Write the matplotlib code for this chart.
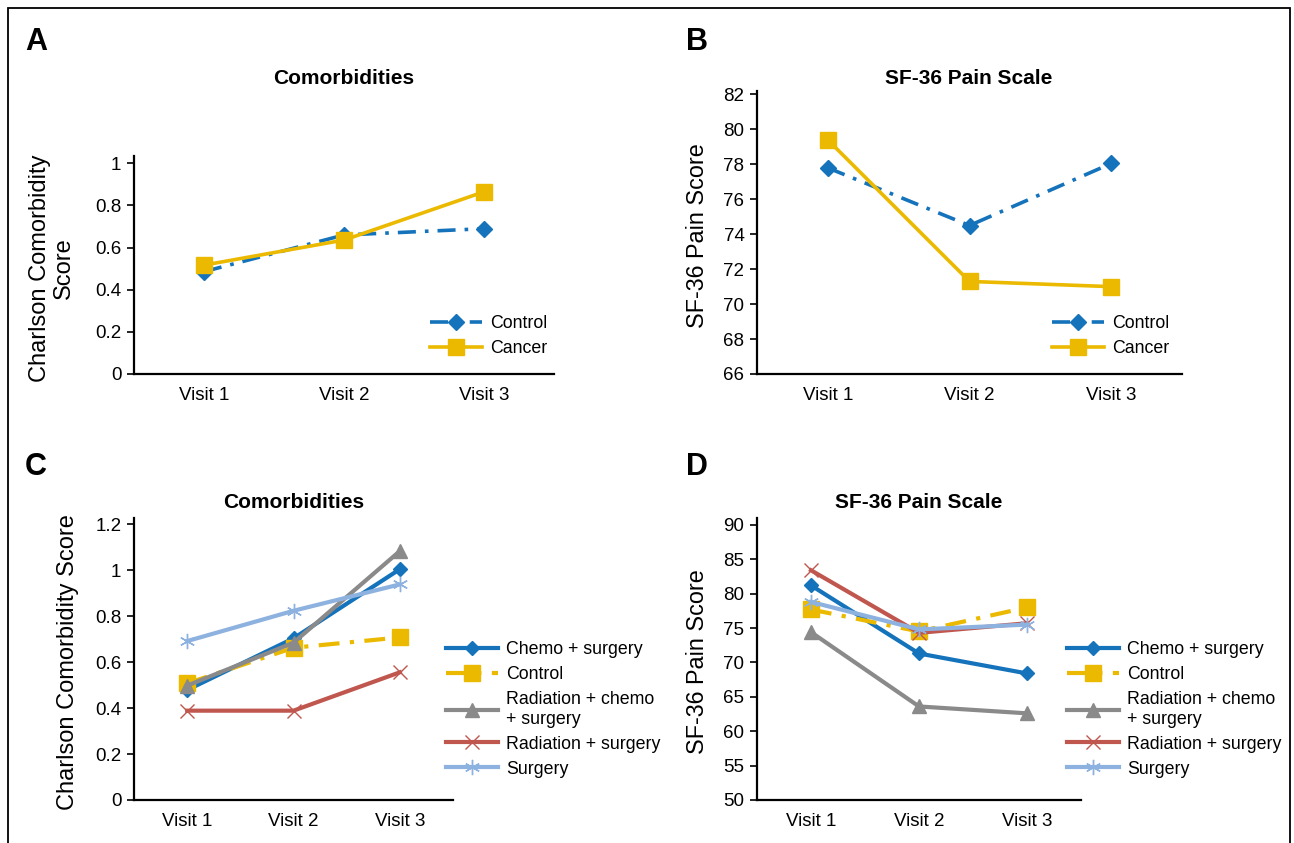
import matplotlib
matplotlib.use("Agg")
import matplotlib.pyplot as plt
from matplotlib.patches import Rectangle
from matplotlib import font_manager

visits = ["Visit 1", "Visit 2", "Visit 3"]

# Panel A: Charlson comorbidity score
a_control = [0.486, 0.66, 0.69]
a_cancer = [0.517, 0.636, 0.865]
# Panel B: SF-36 pain score
b_control = [77.8, 74.5, 78.05]
b_cancer = [79.4, 71.3, 71.0]
# Panel C: comorbidity by treatment group
groups = ["Chemo + surgery", "Control", "Radiation + chemo\n+ surgery",
          "Radiation + surgery", "Surgery"]
c_chemo_surg = [0.479, 0.704, 1.005]
c_control = [0.508, 0.663, 0.708]
c_rad_chemo_surg = [0.498, 0.685, 1.084]
c_rad_surg = [0.389, 0.389, 0.556]
c_surgery = [0.692, 0.824, 0.939]
# Panel D: pain score by treatment group
d_chemo_surg = [81.2, 71.3, 68.4]
d_control = [77.7, 74.5, 78.0]
d_rad_chemo_surg = [74.4, 63.6, 62.6]
d_rad_surg = [83.4, 74.3, 75.7]
d_surgery = [78.8, 74.8, 75.5]

avail = {f.name for f in font_manager.fontManager.ttflist}
narrow = "Liberation Sans Narrow" if "Liberation Sans Narrow" in avail else "Liberation Sans"
plt.rcParams["font.family"] = [narrow, "DejaVu Sans"]

BLUE = "#1473bb"
YELLOW = "#ebba00"
GRAY = "#8a8a8a"
RED = "#c0574f"
LBLUE = "#8eb2e0"

W, H = 1294, 843
fig = plt.figure(figsize=(W / 100, H / 100), dpi=100)


def add_ax(x0, x1, ytop, ybot):
    return fig.add_axes([x0 / W, 1 - ybot / H, (x1 - x0) / W, (ybot - ytop) / H])


def style(ax, ylim, yticks, yticklabels):
    ax.set_xlim(-0.5, 2.5)
    ax.set_ylim(*ylim)
    ax.set_xticks(range(3))
    ax.set_xticklabels(visits, fontsize=13.5)
    ax.set_yticks(yticks)
    ax.set_yticklabels(yticklabels, fontsize=13.5)
    ax.tick_params(axis="x", length=0, pad=9)
    ax.tick_params(axis="y", length=5, width=1.2, direction="out", pad=4)
    for s in ["top", "right"]:
        ax.spines[s].set_visible(False)
    for s in ["left", "bottom"]:
        ax.spines[s].set_linewidth(1.6)
    ax.patch.set_alpha(0)


def px_anchor(ax, px, py):
    """Convert figure pixel position (from top-left) to axes fraction."""
    inv = ax.transAxes.inverted()
    return tuple(inv.transform(fig.transFigure.transform((px / W, 1 - py / H))))


x = list(range(3))
dashdot = (0, (5, 2.5, 1, 2.5))
LEGKW = dict(frameon=False, fontsize=12.8, handlelength=2.9, labelspacing=0.45,
             handletextpad=0.5, borderaxespad=0, borderpad=0)

# ---- A
axA = add_ax(134, 554, 156, 374)
style(axA, (0, 1.035), [0, 0.2, 0.4, 0.6, 0.8, 1.0], ["0", "0.2", "0.4", "0.6", "0.8", "1"])
axA.plot(x, a_control, color=BLUE, lw=2.6, ls=dashdot, marker="D", ms=8, label="Control")
axA.plot(x, a_cancer, color=YELLOW, lw=2.6, marker="s", ms=11, label="Cancer")
axA.legend(loc="upper left", bbox_to_anchor=px_anchor(axA, 430, 315), **LEGKW)
fig.text(344 / W, 1 - 78 / H, "Comorbidities", ha="center", va="center",
         fontsize=15, fontweight="bold")
fig.text(52 / W, 1 - 268 / H, "Charlson Comorbidity\nScore", rotation=90, ha="center",
         va="center", fontsize=17, linespacing=1.15)

# ---- B
axB = add_ax(757, 1182, 91, 374)
style(axB, (66, 82.2), list(range(66, 83, 2)), [str(v) for v in range(66, 83, 2)])
axB.plot(x, b_control, color=BLUE, lw=2.6, ls=dashdot, marker="D", ms=8, label="Control")
axB.plot(x, b_cancer, color=YELLOW, lw=2.6, marker="s", ms=11, label="Cancer")
axB.legend(loc="upper left", bbox_to_anchor=px_anchor(axB, 1052, 315), **LEGKW)
fig.text(969 / W, 1 - 78 / H, "SF-36 Pain Scale", ha="center", va="center",
         fontsize=15, fontweight="bold")
fig.text(697 / W, 1 - 236 / H, "SF-36 Pain Score", rotation=90, ha="center",
         va="center", fontsize=16.8)

# ---- C
axC = add_ax(134, 453, 518, 800)
style(axC, (0, 1.228), [0, 0.2, 0.4, 0.6, 0.8, 1.0, 1.2],
      ["0", "0.2", "0.4", "0.6", "0.8", "1", "1.2"])
series_c = [c_chemo_surg, c_control, c_rad_chemo_surg, c_rad_surg, c_surgery]
series_d = [d_chemo_surg, d_control, d_rad_chemo_surg, d_rad_surg, d_surgery]
styles = [
    dict(color=BLUE, lw=3, ls="-", marker="D", ms=7),
    dict(color=YELLOW, lw=3, ls=dashdot, marker="s", ms=11),
    dict(color=GRAY, lw=3, ls="-", marker="^", ms=10),
    dict(color=RED, lw=3, ls="-", marker="x", ms=10, mew=1.0),
    dict(color=LBLUE, lw=3, ls="-", marker=(6, 2, 0), ms=11, mew=1.0),
]


def draw_group(ax, series):
    handles = []
    for name, vals, st in zip(groups, series, styles):
        h, = ax.plot(x, vals, label=name, **st)
        handles.append(h)
    return handles


hc = draw_group(axC, series_c)
axC.legend(handles=hc, loc="upper left", bbox_to_anchor=px_anchor(axC, 446, 641), **LEGKW)
fig.text(294 / W, 1 - 503 / H, "Comorbidities", ha="center", va="center",
         fontsize=15, fontweight="bold")
fig.text(68 / W, 1 - 662 / H, "Charlson Comorbidity Score", rotation=90, ha="center",
         va="center", fontsize=17)

# ---- D
axD = add_ax(757, 1081, 518, 800)
style(axD, (50, 91), list(range(50, 91, 5)), [str(v) for v in range(50, 91, 5)])
hd = draw_group(axD, series_d)
axD.legend(handles=hd, loc="upper left", bbox_to_anchor=px_anchor(axD, 1067, 641), **LEGKW)
fig.text(919 / W, 1 - 503 / H, "SF-36 Pain Scale", ha="center", va="center",
         fontsize=15, fontweight="bold")
fig.text(697 / W, 1 - 662 / H, "SF-36 Pain Score", rotation=90, ha="center",
         va="center", fontsize=16.8)

# panel letters
for lab, px, py in [("A", 25, 42), ("B", 686, 42), ("C", 25, 467), ("D", 686, 467)]:
    fig.text(px / W, 1 - py / H, lab, ha="left", va="center", fontsize=22,
             fontweight="bold", family=["Liberation Sans", "DejaVu Sans"])

# outer frame
fig.patches.append(Rectangle((7.5 / W, -0.05), (1290 - 7.5) / W, 1.05 - 8 / H,
                             transform=fig.transFigure, fill=False, lw=1.3,
                             edgecolor="black"))

fig.savefig("out.png", dpi=100)
